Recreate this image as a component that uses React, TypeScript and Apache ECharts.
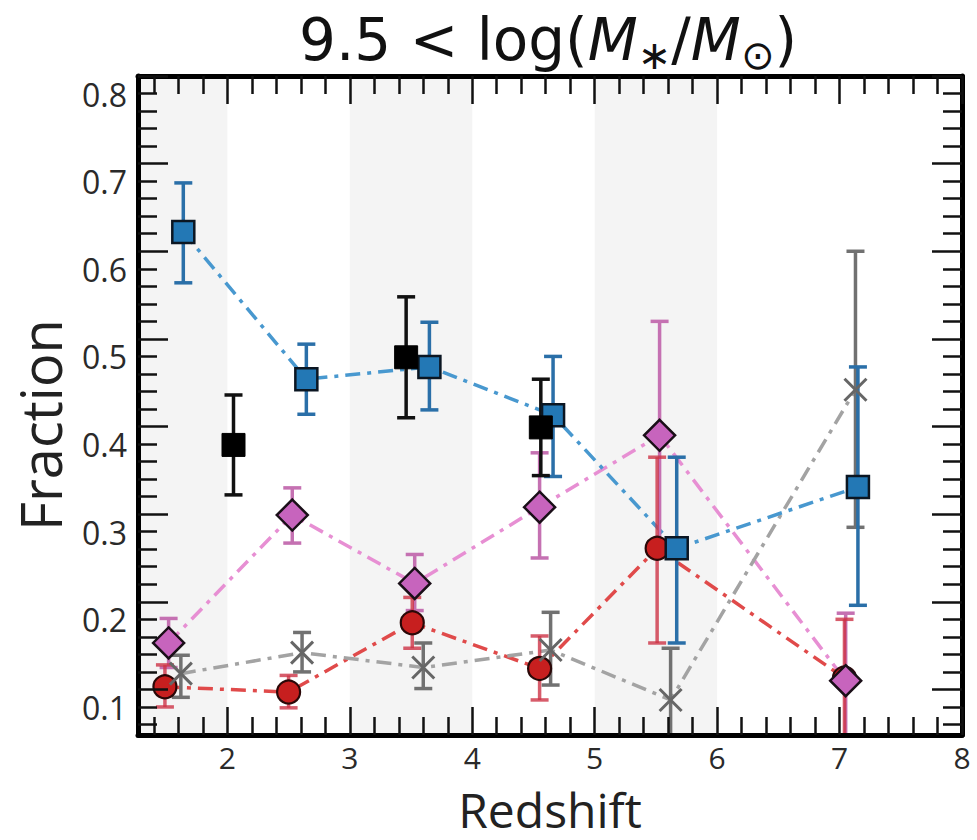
import React, { useEffect, useRef } from 'react';
import * as echarts from 'echarts';

const X_MIN = 1.27;
const X_MAX = 8;
const Y_MIN = 0.048;
const Y_MAX = 0.8;

const xTicks = [2, 3, 4, 5, 6, 7, 8];
const xMinorTicks = [1.4, 1.6, 1.8, 2.2, 2.4, 2.6, 2.8, 3.2, 3.4, 3.6, 3.8, 4.2, 4.4, 4.6, 4.8, 5.2, 5.4, 5.6, 5.8, 6.2, 6.4, 6.6, 6.8, 7.2, 7.4, 7.6, 7.8];
const yTicks = [0.1, 0.2, 0.3, 0.4, 0.5, 0.6, 0.7, 0.8];
const yMinorTicks = [0.06, 0.08, 0.12, 0.14, 0.16, 0.18, 0.22, 0.24, 0.26, 0.28, 0.32, 0.34, 0.36, 0.38, 0.42, 0.44, 0.46, 0.48, 0.52, 0.54, 0.56, 0.58, 0.62, 0.64, 0.66, 0.68, 0.72, 0.74, 0.76, 0.78];
const bands = [[1, 2], [3, 4], [5, 6]];

// blue squares
const blueX = [1.64, 2.645, 3.65, 4.66, 5.67, 7.15];
const blueY = [0.622, 0.454, 0.468, 0.413, 0.261, 0.331];
const blueLo = [0.564, 0.414, 0.419, 0.343, 0.153, 0.196];
const blueHi = [0.678, 0.494, 0.519, 0.48, 0.365, 0.468];

// black squares
const blackX = [2.05, 3.46, 4.56];
const blackY = [0.379, 0.479, 0.399];
const blackLo = [0.322, 0.41, 0.344];
const blackHi = [0.436, 0.548, 0.454];

// pink diamonds
const pinkX = [1.52, 2.53, 3.53, 4.55, 5.53, 7.05];
const pinkY = [0.153, 0.299, 0.221, 0.308, 0.39, 0.11];
const pinkLo = [0.125, 0.267, 0.19, 0.25, 0.26, 0.03];
const pinkHi = [0.181, 0.33, 0.254, 0.37, 0.52, 0.187];

// red circles
const redX = [1.49, 2.5, 3.51, 4.55, 5.51, 7.04];
const redY = [0.103, 0.097, 0.176, 0.124, 0.261, 0.113];
const redLo = [0.08, 0.079, 0.147, 0.088, 0.153, 0.02];
const redHi = [0.128, 0.116, 0.205, 0.161, 0.365, 0.18];

// gray crosses
const grayX = [1.62, 2.61, 3.6, 4.64, 5.62, 7.13];
const grayY = [0.118, 0.142, 0.125, 0.145, 0.088, 0.442];
const grayLo = [0.091, 0.12, 0.101, 0.105, 0.03, 0.285];
const grayHi = [0.139, 0.165, 0.153, 0.188, 0.147, 0.6];

const DASHDOT = [15, 7, 4, 7];
const TEXT_FONT = 'Open Sans';

function pairs(xs: number[], ys: number[]) {
  return xs.map((x, i) => [x, ys[i]]);
}

function errSeries(xs: number[], los: number[], his: number[], color: string, width: number, z: number, opacity = 1) {
  return {
    type: 'custom',
    xAxisIndex: 0,
    yAxisIndex: 0,
    clip: true,
    z,
    silent: true,
    data: xs.map((x, i) => [x, los[i], his[i]]),
    encode: { x: 0, y: [1, 2] },
    renderItem: (params: any, api: any) => {
      const x = api.value(0);
      const lo = api.value(1);
      const hi = api.value(2);
      const p1 = api.coord([x, hi]);
      const p2 = api.coord([x, lo]);
      const cap = 9;
      const st = { stroke: color, lineWidth: width, opacity };
      return {
        type: 'group',
        children: [
          { type: 'line', shape: { x1: p1[0], y1: p1[1], x2: p2[0], y2: p2[1] }, style: st },
          { type: 'line', shape: { x1: p1[0] - cap, y1: p1[1], x2: p1[0] + cap, y2: p1[1] }, style: st },
          { type: 'line', shape: { x1: p2[0] - cap, y1: p2[1], x2: p2[0] + cap, y2: p2[1] }, style: st },
        ],
      };
    },
  };
}

function lineSeries(xs: number[], ys: number[], color: string, z: number) {
  return {
    type: 'line',
    xAxisIndex: 0,
    yAxisIndex: 0,
    data: pairs(xs, ys),
    symbol: 'none',
    z,
    silent: true,
    lineStyle: { color, width: 3.5, type: DASHDOT },
  };
}

function markerSeries(xs: number[], ys: number[], symbol: string, size: any, fill: string, edge: string, edgeW: number, z: number) {
  return {
    type: 'scatter',
    xAxisIndex: 0,
    yAxisIndex: 0,
    data: pairs(xs, ys),
    symbol,
    symbolSize: size,
    z,
    silent: true,
    itemStyle: { color: fill, borderColor: edge, borderWidth: edgeW, opacity: 1 },
  };
}

const tickStyle = { color: '#111', width: 2.5 };

function baseAxis(min: number, max: number, position: string) {
  return {
    type: 'value',
    min,
    max,
    position,
    z: 30,
    splitLine: { show: false },
    axisLine: { show: false },
    axisTick: { show: false },
    axisLabel: { show: false },
  };
}

export default function App() {
  const ref = useRef<HTMLDivElement>(null);

  useEffect(() => {
    if (!ref.current) return;
    const chart = echarts.init(ref.current, null, { renderer: 'svg' });

    const majorX = (pos: string, labels: boolean) => ({
      ...baseAxis(X_MIN, X_MAX, pos),
      axisLine: { show: true, onZero: false, lineStyle: { color: '#000', width: 5 } },
      axisTick: { show: true, inside: true, length: 28, customValues: xTicks, lineStyle: tickStyle },
      axisLabel: labels
        ? { show: true, customValues: xTicks, fontSize: 30, lineHeight: 30, color: '#2a2a2a', margin: 7, fontFamily: TEXT_FONT }
        : { show: false },
    });
    const minorX = (pos: string) => ({
      ...baseAxis(X_MIN, X_MAX, pos),
      axisTick: { show: true, inside: true, length: 18, customValues: xMinorTicks, lineStyle: tickStyle },
    });
    const majorY = (pos: string, labels: boolean) => ({
      ...baseAxis(Y_MIN, Y_MAX, pos),
      axisLine: { show: true, onZero: false, lineStyle: { color: '#000', width: 5 } },
      axisTick: { show: true, inside: true, length: 30, customValues: yTicks, lineStyle: tickStyle },
      axisLabel: labels
        ? {
            show: true,
            customValues: yTicks,
            fontSize: 32,
            color: '#2a2a2a',
            margin: 11,
            fontFamily: TEXT_FONT,
            verticalAlign: 'top',
            padding: [2, 0, 0, 0],
            formatter: (v: number) => v.toFixed(1),
          }
        : { show: false },
    });
    const minorY = (pos: string) => ({
      ...baseAxis(Y_MIN, Y_MAX, pos),
      axisTick: { show: true, inside: true, length: 19, customValues: yMinorTicks, lineStyle: tickStyle },
    });

    const option: any = {
      animation: false,
      backgroundColor: '#fff',
      grid: { left: 138, right: 15, top: 76, bottom: 105, containLabel: false },
      xAxis: [majorX('bottom', true), minorX('bottom'), majorX('top', false), minorX('top')],
      yAxis: [majorY('left', true), minorY('left'), majorY('right', false), minorY('right')],
      graphic: [
        {
          type: 'text',
          x: 548,
          y: 40,
          style: {
            text: '{a|9.5 < log(}{i|M}{s|∗}{a|/}{i|M}{sub|⊙}{a|)}',
            align: 'center',
            verticalAlign: 'middle',
            rich: {
              a: { fontFamily: 'DejaVu Sans', fontSize: 58, fill: '#111', lineHeight: 70, verticalAlign: 'middle' },
              i: { fontFamily: 'DejaVu Sans', fontStyle: 'italic', fontSize: 58, fill: '#111', lineHeight: 70, verticalAlign: 'middle' },
              s: { fontFamily: 'DejaVu Sans', fontSize: 40, fill: '#111', lineHeight: 44, verticalAlign: 'bottom' },
              sub: { fontFamily: 'DejaVu Sans', fontSize: 40, fill: '#111', lineHeight: 40, verticalAlign: 'bottom' },
            },
          },
        },
        {
          type: 'text',
          x: 550,
          y: 809,
          style: { text: 'Redshift', align: 'center', verticalAlign: 'middle', fontFamily: TEXT_FONT, fontSize: 48, lineHeight: 48, fill: '#222' },
        },
        {
          type: 'text',
          x: 40,
          y: 425,
          rotation: Math.PI / 2,
          style: { text: 'Fraction', align: 'center', verticalAlign: 'middle', fontFamily: TEXT_FONT, fontSize: 56, lineHeight: 60, fill: '#222' },
        },
      ],
      series: [
        {
          type: 'line',
          xAxisIndex: 0,
          yAxisIndex: 0,
          data: [],
          z: 0,
          silent: true,
          markArea: {
            silent: true,
            itemStyle: { color: '#f4f4f4' },
            data: bands.map((b) => [{ xAxis: Math.max(b[0], X_MIN) }, { xAxis: b[1] }]),
          },
        },
        // connecting lines
        lineSeries(pinkX, pinkY, '#e78fd3', 2),
        lineSeries(redX, redY, '#e04a4a', 3),
        lineSeries(grayX, grayY, '#a3a3a3', 4),
        lineSeries(blueX, blueY, '#4898cf', 5),
        // error bars
        errSeries(pinkX, pinkLo, pinkHi, '#c571b2', 3.5, 6),
        errSeries(redX, redLo, redHi, '#cd3346', 3.5, 7, 0.8),
        errSeries(grayX, grayLo, grayHi, '#717171', 3.5, 8),
        errSeries(blueX, blueLo, blueHi, '#2a6fa8', 3.5, 9),
        errSeries(blackX, blackLo, blackHi, '#111', 3.5, 10),
        // markers
        markerSeries(redX, redY, 'circle', 23, '#c71f1f', '#2a0808', 2.2, 11),
        markerSeries(grayX, grayY, 'path://M0,0L10,10M10,0L0,10', 22, 'none', '#666', 3, 12),
        markerSeries(pinkX, pinkY, 'diamond', [31, 31], '#c764bd', '#1a0f18', 2.5, 13),
        markerSeries(blueX, blueY, 'rect', 22, '#2378b5', '#0b1622', 2.5, 14),
        markerSeries(blackX, blackY, 'rect', 23, '#000', '#000', 1, 15),
      ],
    };

    chart.setOption(option);
    return () => chart.dispose();
  }, []);

  return (
    <div
      ref={ref}
      style={{ position: 'fixed', left: 0, top: 0, width: 977, height: 840, background: '#fff' }}
    />
  );
}
